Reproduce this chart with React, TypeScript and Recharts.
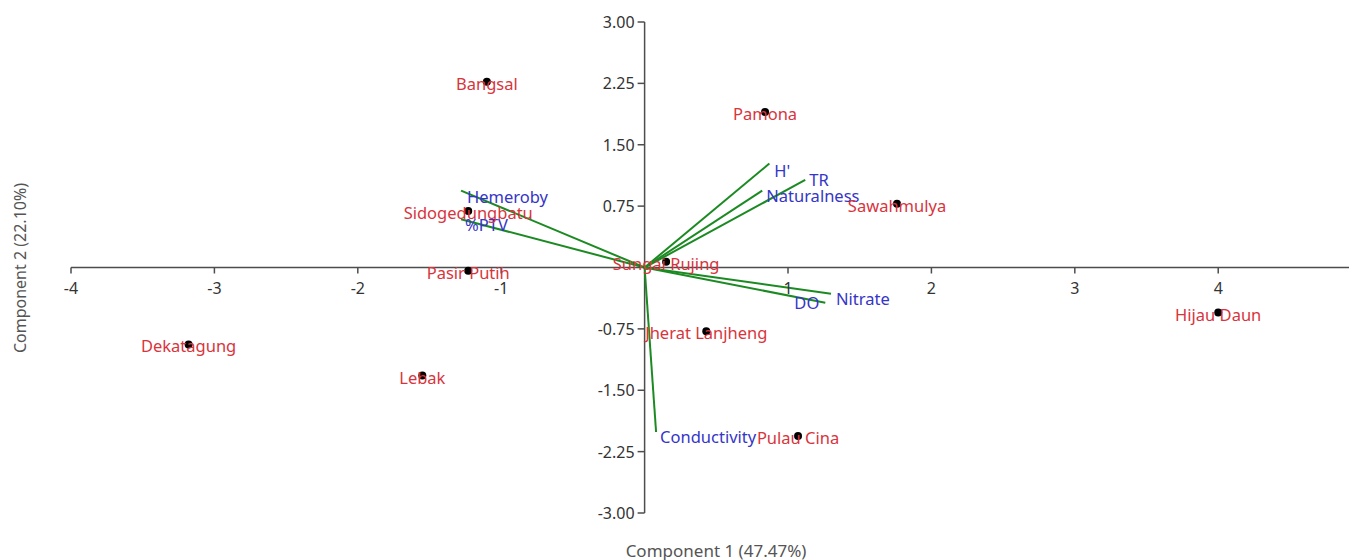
import React from "react";
import { ScatterChart, Scatter, XAxis, YAxis, ReferenceLine } from "recharts";

const siteNames = ["Bangsal", "Pamona", "Sawahmulya", "Sidogedungbatu", "Pasir Putih", "Sungai Rujing", "Hijau Daun", "Dekatagung", "Lebak", "Jherat Lanjheng", "Pulau Cina"];
const siteX = [-1.10, 0.84, 1.76, -1.23, -1.23, 0.15, 4.00, -3.18, -1.55, 0.43, 1.07];
const siteY = [2.27, 1.90, 0.78, 0.69, -0.04, 0.07, -0.55, -0.94, -1.32, -0.78, -2.06];

const varNames = ["H'", "TR", "Naturalness", "Nitrate", "DO", "Conductivity", "Hemeroby", "%PTV"];
const varX = [0.87, 1.12, 0.82, 1.30, 1.26, 0.08, -1.28, -1.28];
const varY = [1.27, 1.07, 0.94, -0.32, -0.43, -2.01, 0.94, 0.59];

const xTicks = [-4, -3, -2, -1, 1, 2, 3, 4];
const yTicks = [3, 2.25, 1.5, 0.75, -0.75, -1.5, -2.25, -3];

// label placement styles (pixel offsets), not data
const varLabelStyle: Record<string, { dx: number; dy: number; anchor: "start" | "end" }> = {
  "H'": { dx: 5, dy: 13, anchor: "start" },
  TR: { dx: 4, dy: 6, anchor: "start" },
  Naturalness: { dx: 4, dy: 11, anchor: "start" },
  Nitrate: { dx: 5, dy: 11, anchor: "start" },
  DO: { dx: -6, dy: 6, anchor: "end" },
  Conductivity: { dx: 4, dy: 11, anchor: "start" },
  Hemeroby: { dx: 6, dy: 12, anchor: "start" },
  "%PTV": { dx: 4, dy: 12, anchor: "start" },
};

const FONT = "'Noto Sans', 'Open Sans', sans-serif";
const AXIS = "#4d4d4d";
const RED = "#d8343c";
const BLUE = "#3535c8";
const GREEN = "#1c8a22";
const LABEL_SIZE = 16.5;

const sites = siteNames.map((name, i) => ({ name, x: siteX[i], y: siteY[i] }));
const vars = varNames.map((name, i) => ({ name, x: varX[i], y: varY[i] }));
const xTickData = xTicks.map((v) => ({ x: v, y: 0 }));
const yTickData = yTicks.map((v) => ({ x: 0, y: v }));

const SiteShape = (p: any) => (
  <g>
    <circle cx={p.cx} cy={p.cy} r={4} fill="#000" />
    <text x={p.cx} y={p.cy + 8} textAnchor="middle" fill={RED} fontSize={LABEL_SIZE} fontFamily={FONT}>
      {p.payload.name}
    </text>
  </g>
);

const VarLabel = (p: any) => {
  const s = varLabelStyle[p.payload.name];
  return (
    <text x={p.cx + s.dx} y={p.cy + s.dy} textAnchor={s.anchor} fill={BLUE} fontSize={LABEL_SIZE} fontFamily={FONT}>
      {p.payload.name}
    </text>
  );
};

const XTick = (p: any) => (
  <g>
    <line x1={p.cx} y1={p.cy} x2={p.cx} y2={p.cy + 6} stroke={AXIS} strokeWidth={1.5} />
    <text x={p.cx} y={p.cy + 26} textAnchor="middle" fill="#333" fontSize={16} fontFamily={FONT}>
      {p.payload.x}
    </text>
  </g>
);

const YTick = (p: any) => (
  <g>
    <line x1={p.cx - 7} y1={p.cy} x2={p.cx} y2={p.cy} stroke={AXIS} strokeWidth={1.5} />
    <text x={p.cx - 10} y={p.cy + 6} textAnchor="end" fill="#333" fontSize={16} fontFamily={FONT}>
      {p.payload.y.toFixed(2)}
    </text>
  </g>
);

export default function App() {
  return (
    <div style={{ position: "absolute", left: 0, top: 0, width: 1349, height: 560, background: "#fff" }}>
      <ScatterChart width={1349} height={560} margin={{ top: 22, right: 0, left: 71, bottom: 47 }} style={{ overflow: "visible" }}>
        <XAxis type="number" dataKey="x" domain={[-4, 4.912]} hide />
        <YAxis type="number" dataKey="y" domain={[-3, 3]} hide />
        <ReferenceLine y={0} stroke={AXIS} strokeWidth={1.5} />
        <ReferenceLine x={0} stroke={AXIS} strokeWidth={1.5} />
        {vars.map((v) => (
          <ReferenceLine
            key={v.name}
            segment={[{ x: 0, y: 0 }, { x: v.x, y: v.y }]}
            stroke={GREEN}
            strokeWidth={2}
          />
        ))}
        <Scatter data={xTickData} shape={XTick} isAnimationActive={false} />
        <Scatter data={yTickData} shape={YTick} isAnimationActive={false} />
        <Scatter data={vars} shape={VarLabel} isAnimationActive={false} />
        <Scatter data={sites} shape={SiteShape} isAnimationActive={false} />
      </ScatterChart>
      <div
        style={{
          position: "absolute",
          left: 0,
          width: 1432,
          top: 539,
          textAlign: "center",
          fontFamily: FONT,
          fontSize: 17,
          color: "#555",
        }}
      >
        Component 1 (47.47%)
      </div>
      <div
        style={{
          position: "absolute",
          left: 20,
          top: 268,
          transform: "translate(-50%, -50%) rotate(-90deg)",
          whiteSpace: "nowrap",
          fontFamily: FONT,
          fontSize: 16,
          color: "#555",
        }}
      >
        Component 2 (22.10%)
      </div>
    </div>
  );
}
